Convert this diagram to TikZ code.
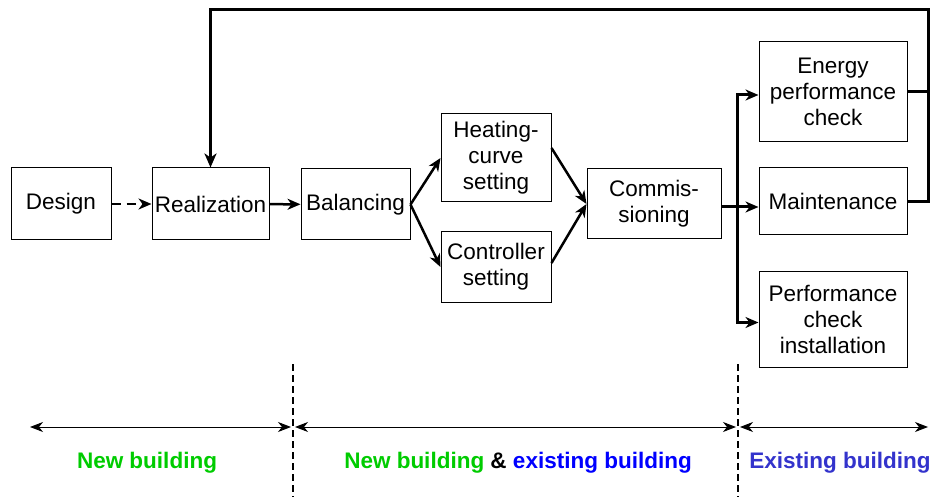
\documentclass[tikz,border=0pt]{standalone}
\usepackage{fontspec}
\setmainfont{Liberation Sans}
\usepackage{tikz}
\usetikzlibrary{arrows.meta}
\definecolor{newgreen}{RGB}{0,204,0}
\definecolor{oldblue}{RGB}{0,0,255}
\definecolor{exblue}{RGB}{51,51,204}
\tikzset{
box/.style={draw, line width=1pt, inner sep=0pt, align=center},
flow/.style={line width=2.5pt, -{Stealth[length=13pt,width=11pt,inset=4pt]}},
bus/.style={line width=3pt},
span/.style={line width=1pt, {Stealth[length=13pt,width=10pt,inset=4pt]}-{Stealth[length=13pt,width=10pt,inset=4pt]}},
sep/.style={line width=1.5pt, dash pattern=on 7pt off 4pt},
zone/.style={font=\fontsize{22.5}{26}\selectfont\bfseries}}

\begin{document}
\begin{tikzpicture}[x=1pt, y=-1pt, font=\fontsize{22.5}{26}\selectfont]
    \useasboundingbox (0,0) rectangle (932,497);

                % process boxes
                \node[box, minimum width=100pt, minimum height=72pt] (design) at (61,204) {Design};
                \node[box, minimum width=117pt, minimum height=72pt] (realization) at (210.5,204) {Realization};
                \node[box, minimum width=109pt, minimum height=71pt] (balancing) at (355.5,204.5) {Balancing};
                \node[box, minimum width=110pt, minimum height=88pt] (heating) at (496,158) {Heating-\\curve\\setting};
                \node[box, minimum width=110pt, minimum height=70pt] (controller) at (496,267) {Controller\\setting};
                \node[box, minimum width=134pt, minimum height=70pt] (commissioning) at (654,204) {Commis-\\sioning};
                \node[box, minimum width=148pt, minimum height=100pt] (energy) at (833,92) {Energy\\performance\\check};
                \node[box, minimum width=148pt, minimum height=67pt] (maintenance) at (833,201.5) {Maintenance};
                \node[box, minimum width=148pt, minimum height=95pt] (performance) at (833,319.5) {Performance\\check\\installation};

                \coordinate (branch) at (737,207);
                \coordinate (loop) at (928,10);

                % main flow
                \draw[flow, dash pattern=on 9pt off 6pt] (design) -- (realization);
                \draw[flow] (realization) -- (balancing);
                \draw[flow] (balancing.east) -- (heating.west);
                \draw[flow] (balancing.east) -- (controller.west);
                \draw[flow] ([yshift=10pt]heating.east) -- (commissioning.west);
                \draw[flow] ([yshift=4pt]controller.east) -- (commissioning.west);

                % branch to the operation phase
                \draw[bus] (commissioning.east |- branch) -- (branch);
                \draw[bus, -{Stealth[length=13pt,width=11pt,inset=4pt]}] (branch) |- ([yshift=-3pt]energy.west);
                \draw[bus, -{Stealth[length=13pt,width=11pt,inset=4pt]}] (branch) -- (maintenance.west |- branch);
                \draw[bus, -{Stealth[length=13pt,width=11pt,inset=4pt]}] (branch) |- ([yshift=-3pt]performance.west);

                % feedback to realization
                \draw[bus] (energy.east) -- (energy.east -| loop);
                \draw[bus, -{Stealth[length=14pt,width=12pt,inset=4pt]}] (maintenance.east) -| (loop) -| (realization.north);

                % building phases
                \coordinate (cutA) at (293,364);
                \coordinate (cutB) at (738,364);
                \draw[sep] (cutA) -- (cutA |- 0,497);
                \draw[sep] (cutB) -- (cutB |- 0,497);
                \coordinate (spanL) at (30,427);
                \coordinate (spanR) at (928,427);
                \draw[span] (spanL) -- ([xshift=-2pt]cutA |- spanL);
                \draw[span] ([xshift=2pt]cutA |- spanL) -- ([xshift=-2pt]cutB |- spanL);
                \draw[span] ([xshift=2pt]cutB |- spanL) -- (spanR);

                \node[zone, text=newgreen] (phaseA) at (147,463) {New building};
                \node[zone] (phaseB) at (518,463) {\textcolor{newgreen}{New building} \& \textcolor{oldblue}{existing building}};
                \node[zone, text=exblue] (phaseC) at (840,463) {Existing building};

            \end{tikzpicture}
\end{document}
